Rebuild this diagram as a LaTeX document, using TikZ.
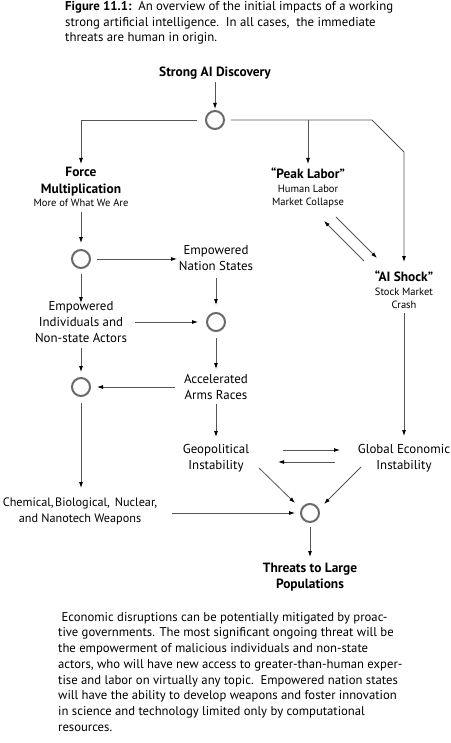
\documentclass[tikz,border=0pt]{standalone}
\usepackage{fontspec}
\setmainfont{PT Sans}
\usetikzlibrary{arrows.meta,calc}
\definecolor{linegray}{HTML}{555555}
\definecolor{circgray}{HTML}{6A6A6A}
\tikzset{
  lbl/.style={align=center,inner sep=0pt,font=\fontsize{12.9}{15.8}\selectfont},
  blbl/.style={align=center,inner sep=0pt,font=\fontsize{13.4}{16.5}\selectfont\bfseries},
  circ/.style={circle,draw=circgray,line width=2pt,minimum size=18pt,inner sep=0pt},
  arr/.style={draw=linegray,line width=0.8pt,-{Latex[length=6pt,width=4pt,color=black]}},
}
\newcommand{\smalltxt}{\fontsize{10.5}{13.5}\selectfont\mdseries}
\begin{document}
\begin{tikzpicture}[x=1pt,y=-1pt]
\useasboundingbox (0,0) rectangle (450,743);
% caption
\node[anchor=north west,align=left,inner sep=0pt,font=\fontsize{12.8}{15.7}\selectfont] (cap) at (65,1)
 {\textbf{Figure 11.1:}\ \ An overview of the initial impacts of a working\\
 strong artificial intelligence.\ \ In all cases,\ \ the immediate\\
 threats are human in origin.};
% nodes
\node[blbl] (disc) at (215,73) {Strong AI Discovery};
\node[circ] (c1) at (215,120) {};
\node[blbl] (force) at (81,187) {Force\\Multiplication\\[-3pt]{\smalltxt More of What We Are}};
\node[blbl] (peak) at (308,188) {“Peak Labor”\\[-3pt]{\smalltxt Human Labor}\\[-3pt]{\smalltxt Market Collapse}};
\node[blbl] (shock) at (404,290) {“AI Shock”\\[-3pt]{\smalltxt Stock Market}\\[-3pt]{\smalltxt Crash}};
\node[circ] (c2) at (81,259) {};
\node[lbl] (ens) at (216,258) {Empowered\\Nation States};
\node[lbl] (indiv) at (81,322) {Empowered\\Individuals and\\Non-state Actors};
\node[circ] (c3) at (216,322) {};
\node[lbl] (arms) at (216,387) {Accelerated\\Arms Races};
\node[circ] (c4) at (81,387) {};
\node[lbl] (geo) at (216,458) {Geopolitical\\Instability};
\node[lbl] (gei) at (404,458) {Global Economic\\Instability};
\node[circ] (c5) at (310,513) {};
\node[lbl,font=\fontsize{12.2}{15.8}\selectfont] (chem) at (80,511) {Chemical,\hspace{1.5pt}Biological,\hspace{5pt}Nuclear,\\and Nanotech Weapons};
\node[blbl] (threat) at (310,577) {Threats to Large\\Populations};
\coordinate (k1) at (372,120);
\coordinate (k2) at (404,152);
% connectors
\draw[arr] ([shift={(0,9)}]disc.center) -- ([shift={(0,-11)}]c1.center);
\draw[arr] ([shift={(-18,0)}]c1.center) -| ([shift={(0,-23)}]force.center);
\draw[arr] ([shift={(16,0)}]c1.center) -- (k1) -- (k2) -- ([shift={(0,-28)}]shock.center);
\draw[arr] (peak.center |- c1.center) -- ([shift={(0,-24)}]peak.center);
\draw[arr] ([shift={(28,29)}]peak.center) -- ([shift={(-27,-32)}]shock.center);
\draw[arr] ([shift={(-40,-29)}]shock.center) -- ([shift={(16,33)}]peak.center);
\draw[arr] ([shift={(0,25)}]force.center) -- ([shift={(0,-16)}]c2.center);
\draw[arr] ([shift={(16,0)}]c2.center) -- ([shift={(-39,1)}]ens.center);
\draw[arr] ([shift={(0,15)}]c2.center) -- ([shift={(0,-19)}]indiv.center);
\draw[arr] ([shift={(0,20)}]ens.center) -- ([shift={(0,-17)}]c3.center);
\draw[arr] ([shift={(54,0)}]indiv.center) -- ([shift={(-18,0)}]c3.center);
\draw[arr] ([shift={(0,26)}]indiv.center) -- ([shift={(0,-15)}]c4.center);
\draw[arr] ([shift={(0,16)}]c3.center) -- ([shift={(0,-18)}]arms.center);
\draw[arr] ([shift={(-41,0)}]arms.center) -- ([shift={(16,0)}]c4.center);
\draw[arr] ([shift={(0,16)}]c4.center) -- ([shift={(1,-23)}]chem.center);
\draw[arr] ([shift={(0,17)}]arms.center) -- ([shift={(0,-21)}]geo.center);
\draw[arr] ([shift={(0,23)}]shock.center) -- ([shift={(0,-22)}]gei.center);
\draw[arr] ([shift={(67,-8)}]geo.center) -- ([shift={(-64,-8)}]gei.center);
\draw[arr] ([shift={(-69,4)}]gei.center) -- ([shift={(62,4)}]geo.center);
\draw[arr] ([shift={(43,10)}]geo.center) -- ([shift={(-15,-10)}]c5.center);
\draw[arr] ([shift={(-43,9)}]gei.center) -- ([shift={(14,-9)}]c5.center);
\draw[arr] ([shift={(92,2)}]chem.center) -- ([shift={(-15,0)}]c5.center);
\draw[arr] ([shift={(0,14)}]c5.center) -- ([shift={(0,-20)}]threat.center);
% paragraph
\node[anchor=north west,align=left,inner sep=0pt,font=\fontsize{12.7}{15.7}\selectfont] (para) at (58,612)
 {\ Economic disruptions can be potentially mitigated by proac-\\
 tive governments. The most significant ongoing threat will be\\
 the empowerment of malicious individuals and non-state\\
 actors, who will have new access to greater-than-human exper-\\
 tise and labor on virtually any topic.\ \ Empowered nation states\\
 will have the ability to develop weapons and foster innovation\\
 in science and technology limited only by computational\\
 resources.};
\end{tikzpicture}
\end{document}
